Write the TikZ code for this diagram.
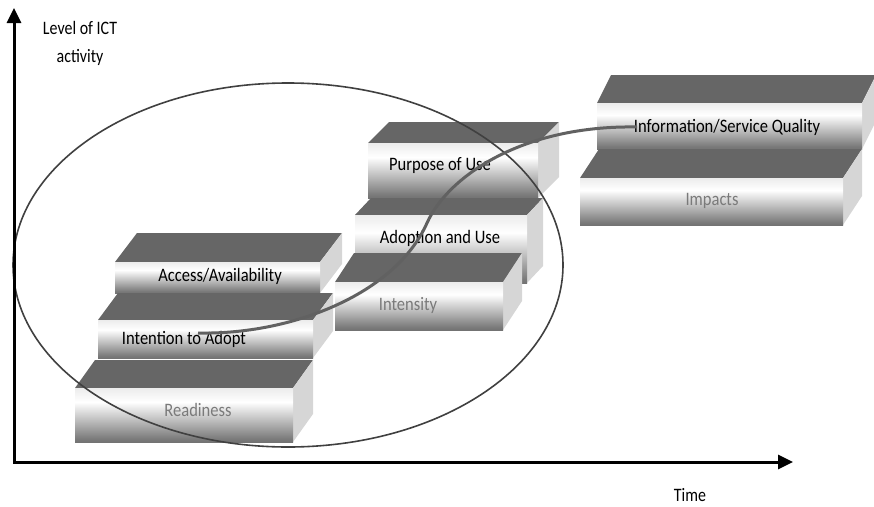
\documentclass[tikz,border=0pt]{standalone}
\usepackage{fontspec}
\setmainfont{Carlito}
\usetikzlibrary{arrows.meta}
\pgfdeclareverticalshading{frontshade}{100bp}{color(0bp)=(black!80); color(28bp)=(black!52); color(62bp)=(white); color(100bp)=(black!22)}
\tikzset{
  topface/.style={fill=black!60},
  sideface/.style={fill=black!16},
  frontface/.style={shading=frontshade},
  steplabel/.style={font=\fontsize{19}{22}\selectfont, xscale=0.87, inner sep=0pt},
  axislabel/.style={font=\fontsize{19}{28}\selectfont, xscale=0.84, inner sep=0pt, align=center},
  axis/.style={line width=3pt, {Triangle[length=15pt,width=14pt]}-{Triangle[length=15pt,width=14pt]}},
  scurve/.style={line width=3pt, black!62},
  phase/.style={line width=1.6pt, black!75}
}
\begin{document}
\begin{tikzpicture}[x=1pt, y=-1pt]
    \useasboundingbox (0,0) rectangle (874,506);

    \foreach \n/\xa/\ya/\xb/\yb/\dx/\dy/\tx/\ty/\c/\t in {
        access/115/262/320/293/22/-29/220/276/black/{Access/Availability},
        intention/98/320/313/358/20/-27/184/339/black/{Intention to Adopt},
        readiness/75/388/293/442/20/-28/198/410/black!52/{Readiness},
        purpose/368/143/538/198/21/-21/440/166/black/{Purpose of Use},
        adoption/355/215/527/283/16/-17/440/238/black/{Adoption and Use},
        intensity/335/282/503/330/19/-29/408/305/black!52/{Intensity},
        info/597/103/862/149/14/-28/727/127/black/{Information/Service Quality},
        impacts/580/178/843/225/19/-29/712/201/black!52/{Impacts}}
    {
        \fill[topface] (\xa,\ya) -- (\xb,\ya) -- (\xb+\dx,\ya+\dy) -- (\xa+\dx,\ya+\dy) -- cycle;
        \fill[sideface] (\xb,\ya) -- (\xb+\dx,\ya+\dy) -- (\xb+\dx,\yb+\dy) -- (\xb,\yb) -- cycle;
        \shade[frontface] (\xa,\ya) rectangle (\xb,\yb);
        \node (\n) at (\tx,\ty) [steplabel, text=\c] {\t};
    }

    \draw[phase] (288,265) ellipse [x radius=275, y radius=182];

    \coordinate (s0) at (198,333);
    \coordinate (s1) at (427,223);
    \coordinate (s2) at (637,127);
    \draw[scurve] (s0) .. controls (290,335) and (395,295) .. (s1)
                       .. controls (447,178) and (520,125) .. (s2);

    \coordinate (ytip) at (14,8);
    \coordinate (xtip) at (793,462);
    \draw[axis] (ytip) |- (xtip);

    \node (ylabel) at (80,43) [axislabel] {Level of ICT\\activity};
    \node (xlabel) at (690,495) [axislabel] {Time};
\end{tikzpicture}
\end{document}
